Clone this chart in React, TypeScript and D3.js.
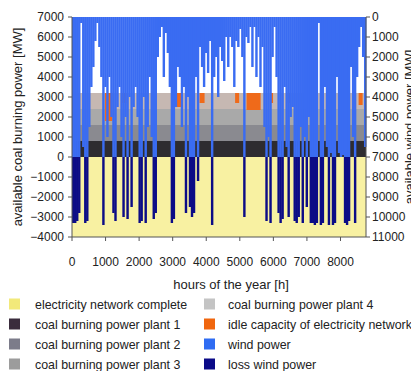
import React from 'react';
import * as d3 from 'd3';

// ---- data ----
const HOURS_PER_BIN = 60;
const HOURS_IN_YEAR = 8760;

// available wind power per 60-hour bin [MW] (right axis, measured from top)
const windPower = [
  10300, 10300, 10200, 9800, 300, 6500, 10300, 10200, 5500, 3500,
  2500, 1200, 300, 1500, 3000, 10400, 3500, 6000, 3000, 5000,
  9800, 10200, 4500, 3500, 6000, 10000, 5000, 10100, 4000, 9500,
  4500, 3500, 5000, 10300, 10200, 4000, 10300, 5500, 3000, 6000,
  10100, 9800, 2000, 1000, 500, 3000, 800, 1800, 3500, 10300,
  10100, 4500, 2500, 3000, 5500, 3500, 9800, 4000, 9500, 10000,
  9800, 3000, 8200, 1500, 2500, 3500, 1800, 2800, 1200, 10400,
  3000, 2000, 4000, 1500, 2200, 3200, 1000, 2500, 1000, 1500,
  3500, 1200, 1500, 600, 2000, 10000, 1000, 1300, 500, 2500,
  500, 3000, 1000, 3500, 1500, 5500, 10200, 6000, 10300, 2000,
  500, 3000, 9800, 10300, 10100, 3500, 6500, 10000, 5000, 4500,
  10200, 10300, 10000, 5500, 10300, 6000, 9500, 5000, 10300, 10300,
  10400, 10300, 300, 10400, 10300, 3500, 6500, 10400, 6800, 10400,
  10300, 3000, 6800, 7000, 6900, 10300, 10400, 10200, 2500, 6000,
  10300, 3000, 1500, 500, 2000, 6500,
];

// idle capacity of electricity network: [start hour, end hour, MW]
const idleCapacity: [number, number, number][] = [
  [980, 1200, 1400], [1500, 1620, 500], [3100, 3250, 700], [3800, 3950, 500],
  [4860, 4980, 500], [5200, 5620, 850], [5900, 5990, 500], [6420, 6520, 500],
  [7700, 7780, 400], [8540, 8660, 600],
];

const plantCapacity = [800, 800, 800, 800]; // coal plants 1..4 [MW]
const networkFloor = -4000;
const windCap = 7000; // wind beyond this is lost

const leftTicks = d3.range(-4000, 7001, 1000);
const rightTicks = d3.range(0, 11001, 1000);
const xTicks = d3.range(0, 8001, 1000);

const legendLabels = [
  'electricity network complete',
  'coal burning power plant 1',
  'coal burning power plant 2',
  'coal burning power plant 3',
  'coal burning power plant 4',
  'idle capacity of electricity network',
  'wind power',
  'loss wind power',
];
const legendColors = ['#f2e97a', '#3a2c3c', '#7c7c8a', '#9c9c9c', '#c4c4c4', '#f0660e', '#2f6cf2', '#0a0a88'];
const plantColors = ['#2e2c30', '#8a8a90', '#a9a9a9', '#c6b8b2'];
const areaYellow = '#f8f1a2';
const windColor = '#3a6cf2';
const lossColor = '#0c0c86';
const idleColor = '#ef6a1a';

const FONT = '"Liberation Sans", Arial, sans-serif';

export default function App() {
  const width = 411;
  const height = 371;
  const x = d3.scaleLinear().domain([0, HOURS_IN_YEAR]).range([72, 366]);
  const yL = d3.scaleLinear().domain([-4000, 7000]).range([237, 17]);
  const yR = d3.scaleLinear().domain([0, 11000]).range([17, 237]);

  const plantTops = d3.cumsum(plantCapacity);
  const bands = plantCapacity.map((c, i) => ({ lo: plantTops[i] - c, hi: plantTops[i], color: plantColors[i] }));
  const plantTotal = plantTops[plantTops.length - 1];

  const bins = windPower.map((w, i) => ({ h0: i * HOURS_PER_BIN, h1: (i + 1) * HOURS_PER_BIN, w }));

  const axisColor = '#555';
  const textColor = '#222';

  return (
    <svg width={width} height={height} style={{ position: 'absolute', left: 0, top: 0, background: '#fff' }}>
      <rect x={0} y={0} width={width} height={height} fill="#fff" />
      {/* electricity network complete */}
      <rect x={x(0)} y={yL(0)} width={x(HOURS_IN_YEAR) - x(0)} height={yL(networkFloor) - yL(0)} fill={areaYellow} />
      {/* coal plants */}
      {bands.map((b, i) => (
        <rect key={'b' + i} x={x(0)} y={yL(b.hi)} width={x(HOURS_IN_YEAR) - x(0)} height={yL(b.lo) - yL(b.hi)} fill={b.color} />
      ))}
      {/* idle capacity */}
      {idleCapacity.map(([h0, h1, mw], i) => (
        <rect key={'i' + i} x={x(h0)} y={yL(plantTotal)} width={x(h1) - x(h0)} height={yL(plantTotal - mw) - yL(plantTotal)} fill={idleColor} />
      ))}
      {/* wind power */}
      {bins.map((b, i) => (
        <rect key={'w' + i} x={x(b.h0)} y={yR(0)} width={x(b.h1) - x(b.h0) + 0.4} height={yR(Math.min(b.w, windCap)) - yR(0)} fill={windColor} />
      ))}
      {/* loss wind power */}
      {bins.filter((b) => b.w > windCap).map((b, i) => (
        <rect key={'l' + i} x={x(b.h0)} y={yR(windCap)} width={x(b.h1) - x(b.h0) + 0.4} height={yR(b.w) - yR(windCap)} fill={lossColor} />
      ))}

      {/* left axis */}
      <line x1={72} x2={72} y1={yL(7000)} y2={yL(-4000)} stroke={axisColor} />
      {leftTicks.map((t) => (
        <g key={'lt' + t}>
          <line x1={68} x2={72} y1={yL(t)} y2={yL(t)} stroke={axisColor} />
          <text x={64} y={yL(t)} dy="0.35em" textAnchor="end" fontSize={12} fontFamily={FONT} fill={textColor}>
            {t < 0 ? '\u2212' + Math.abs(t) : t}
          </text>
        </g>
      ))}
      {/* right axis */}
      <line x1={366} x2={366} y1={yR(0)} y2={yR(11000)} stroke={axisColor} />
      {rightTicks.map((t) => (
        <g key={'rt' + t}>
          <line x1={366} x2={370} y1={yR(t)} y2={yR(t)} stroke={axisColor} />
          <text x={372} y={yR(t)} dy="0.35em" textAnchor="start" fontSize={12} fontFamily={FONT} fill={textColor}>
            {t}
          </text>
        </g>
      ))}
      {/* x axis */}
      <line x1={x(0)} x2={x(HOURS_IN_YEAR)} y1={237} y2={237} stroke={axisColor} />
      {xTicks.map((t) => (
        <g key={'xt' + t}>
          <line x1={x(t)} x2={x(t)} y1={237} y2={241} stroke={axisColor} />
          <text x={x(t)} y={266} textAnchor="middle" fontSize={12} fontFamily={FONT} fill={textColor}>
            {t}
          </text>
        </g>
      ))}
      <text x={231} y={289} textAnchor="middle" fontSize={13} fontFamily={FONT} fill={textColor}>
        hours of the year [h]
      </text>
      <text transform={`translate(22,127) rotate(-90)`} textAnchor="middle" fontSize={13} fontFamily={FONT} fill={textColor}>
        available coal burning power [MW]
      </text>
      <text transform={`translate(414,127) rotate(-90)`} textAnchor="middle" fontSize={13} fontFamily={FONT} fill={textColor}>
        available wind power [MW]
      </text>

      {/* legend */}
      {legendLabels.map((lab, i) => {
        const col = Math.floor(i / 4);
        const row = i % 4;
        const cy = 304 + row * 20;
        const sx = col === 0 ? 9 : 204;
        const tx = col === 0 ? 35 : 228;
        return (
          <g key={'lg' + i}>
            <rect x={sx} y={cy - 5.5} width={11} height={11} fill={legendColors[i]} />
            <text x={tx} y={cy + 4.5} fontSize={12.4} fontFamily={FONT} fill={textColor}>
              {lab}
            </text>
          </g>
        );
      })}
    </svg>
  );
}
